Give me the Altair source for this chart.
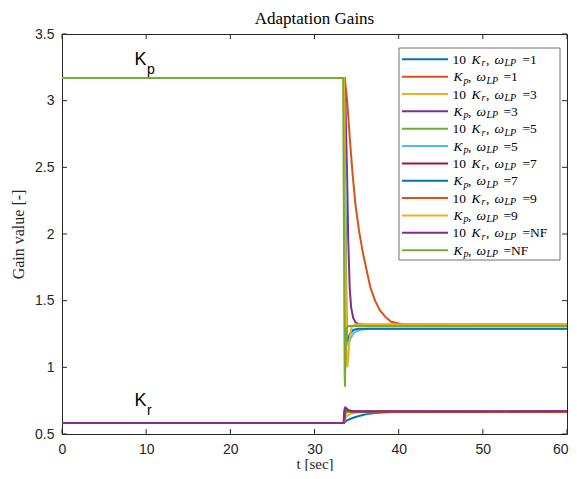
import altair as alt
import pandas as pd

# ---------------- data ----------------
xticks = [0, 10, 20, 30, 40, 50, 60]
yticks = [0.5, 1, 1.5, 2, 2.5, 3, 3.5]

series_names = [
    "10 Kr, wLP=1", "Kp, wLP=1", "10 Kr, wLP=3", "Kp, wLP=3",
    "10 Kr, wLP=5", "Kp, wLP=5", "10 Kr, wLP=7", "Kp, wLP=7",
    "10 Kr, wLP=9", "Kp, wLP=9", "10 Kr, wLP=NF", "Kp, wLP=NF",
]
legend_kind = ["Kr", "Kp"] * 6
legend_omega = ["1", "1", "3", "3", "5", "5", "7", "7", "9", "9", "NF", "NF"]
colors = ["#0072BD", "#D95319", "#EDB120", "#7E2F8E", "#77AC30", "#4DBEEE",
          "#A2142F", "#0072BD", "#D95319", "#EDB120", "#7E2F8E", "#77AC30"]

# 10 Kr, wLP = 1
t_kr1 = [0, 33.5, 33.8, 34.3, 34.8, 35.5, 36.2, 37.0, 38.0, 39.5, 60]
v_kr1 = [0.583, 0.583, 0.600, 0.614, 0.626, 0.639, 0.649, 0.656, 0.662, 0.665, 0.665]
# Kp, wLP = 1
t_kp1 = [0, 33.6, 33.9, 34.18, 34.5, 34.85, 35.3, 35.76, 36.63, 37.2, 37.74, 38.4, 39.1, 40.5, 60]
v_kp1 = [3.17, 3.17, 2.98, 2.73, 2.47, 2.23, 2.02, 1.855, 1.60, 1.50, 1.43, 1.38, 1.342, 1.322, 1.32]
# 10 Kr, wLP = 3
t_kr3 = [0, 33.5, 33.65, 33.9, 34.3, 34.8, 35.5, 60]
v_kr3 = [0.583, 0.583, 0.620, 0.638, 0.652, 0.660, 0.664, 0.665]
# Kp, wLP = 3
t_kp3 = [0, 33.6, 33.86, 34.0, 34.18, 34.35, 34.6, 34.9, 35.2, 36.0, 60]
v_kp3 = [3.17, 3.17, 2.48, 1.98, 1.60, 1.45, 1.37, 1.335, 1.325, 1.32, 1.32]
# 10 Kr, wLP = 5
t_kr5 = [0, 33.5, 33.62, 33.8, 34.1, 34.6, 60]
v_kr5 = [0.583, 0.583, 0.640, 0.662, 0.667, 0.665, 0.665]
# Kp, wLP = 5
t_kp5 = [0, 33.55, 33.7, 33.85, 34.0, 34.3, 34.7, 35.3, 36.5, 60]
v_kp5 = [3.17, 3.17, 2.2, 1.18, 1.17, 1.22, 1.26, 1.28, 1.29, 1.29]
# 10 Kr, wLP = 7
t_kr7 = [0, 33.5, 33.6, 33.75, 34.0, 34.5, 60]
v_kr7 = [0.583, 0.583, 0.660, 0.680, 0.675, 0.668, 0.666]
# Kp, wLP = 7
t_kp7 = [0, 33.5, 33.65, 33.8, 33.95, 34.2, 34.6, 35.2, 60]
v_kp7 = [3.17, 3.17, 2.2, 1.2, 1.2, 1.25, 1.28, 1.29, 1.29]
# 10 Kr, wLP = 9
t_kr9 = [0, 33.5, 33.58, 33.7, 33.9, 34.3, 60]
v_kr9 = [0.583, 0.583, 0.670, 0.688, 0.680, 0.670, 0.667]
# Kp, wLP = 9
t_kp9 = [0, 33.5, 33.65, 33.8, 33.9, 34.0, 34.15, 34.4, 34.8, 60]
v_kp9 = [3.17, 3.17, 2.2, 1.1, 1.0, 1.06, 1.2, 1.3, 1.322, 1.325]
# 10 Kr, no filter
t_krnf = [0, 33.45, 33.55, 33.66, 33.85, 34.1, 34.6, 60]
v_krnf = [0.583, 0.583, 0.680, 0.700, 0.690, 0.676, 0.670, 0.672]
# Kp, no filter
t_kpnf = [0, 33.4, 33.5, 33.58, 33.62, 33.7, 33.8, 34.0, 60]
v_kpnf = [3.17, 3.17, 2.0, 0.95, 0.854, 1.15, 1.29, 1.31, 1.31]

series_t = [t_kr1, t_kp1, t_kr3, t_kp3, t_kr5, t_kp5, t_kr7, t_kp7, t_kr9, t_kp9, t_krnf, t_kpnf]
series_v = [v_kr1, v_kp1, v_kr3, v_kp3, v_kr5, v_kp5, v_kr7, v_kp7, v_kr9, v_kp9, v_krnf, v_kpnf]

# text annotations in the plot
ann_main = ["K", "K"]
ann_sub = ["p", "r"]
ann_t = [8.6, 8.6]
ann_v = [3.267, 0.709]

# ---------------- build tables ----------------
rows = []
for name, ts, vs in zip(series_names, series_t, series_v):
    for t, v in zip(ts, vs):
        rows.append({"series": name, "t": t, "v": v})
df = pd.DataFrame(rows)

W, H = 505, 400
INK = "#262626"
SERIF = "Liberation Serif"
SANS = "Liberation Sans"

xs = alt.Scale(domain=[0, 60], nice=False, zero=False)
ys = alt.Scale(domain=[0.5, 3.5], nice=False, zero=False)
cs = alt.Scale(domain=series_names, range=colors)

xaxis = alt.Axis(values=xticks, ticks=False, domain=False, grid=False,
                 labelFont=SANS, labelFontSize=14, labelColor=INK,
                 labelPadding=8, labelFlush=False, labelOverlap=False, format="d",
                 labelAlign={"condition": {"test": "datum.value === 60", "value": "right"},
                             "value": "center"},
                 labelOffset={"condition": {"test": "datum.value === 60", "value": 1},
                              "value": 0},
                 title="t [sec]", titleFont=SERIF, titleFontSize=15,
                 titleFontWeight="normal", titleColor=INK,
                 titleBaseline="alphabetic", titleY=34)
yaxis = alt.Axis(values=yticks, ticks=False, domain=False, grid=False,
                 labelFont=SANS, labelFontSize=14, labelColor=INK,
                 labelPadding=8, labelFlush=False, labelOverlap=False, format="~g",
                 title="Gain value [-]", titleFont=SERIF, titleFontSize=16,
                 titleFontWeight="normal", titleColor=INK, titlePadding=8)

X = alt.X("t:Q", scale=xs, axis=xaxis)
Y = alt.Y("v:Q", scale=ys, axis=yaxis)

lines = alt.Chart(df).mark_line(strokeWidth=2, clip=True).encode(
    x=X, y=Y,
    color=alt.Color("series:N", scale=cs, legend=None),
)

# inward tick marks on all four sides
xt = pd.DataFrame({"t": xticks})
yt = pd.DataFrame({"v": yticks})
tick_style = dict(color=INK, strokeWidth=1)
xt_bot = alt.Chart(xt).mark_rule(**tick_style).encode(
    x=X, y=alt.value(H), y2=alt.value(H - 5))
xt_top = alt.Chart(xt).mark_rule(**tick_style).encode(
    x=X, y=alt.value(0), y2=alt.value(5))
yt_left = alt.Chart(yt).mark_rule(**tick_style).encode(
    y=Y, x=alt.value(0), x2=alt.value(5))
yt_right = alt.Chart(yt).mark_rule(**tick_style).encode(
    y=Y, x=alt.value(W), x2=alt.value(W - 5))

# annotations K_p / K_r
ann = pd.DataFrame({"main": ann_main, "sub": ann_sub, "t": ann_t, "v": ann_v})
ann_k = alt.Chart(ann).mark_text(font=SANS, fontSize=18, align="left",
                                 baseline="alphabetic", color="black").encode(
    x=X, y=Y, text="main:N")
ann_s = alt.Chart(ann).mark_text(font=SANS, fontSize=14, align="left",
                                 baseline="alphabetic", color="black", dx=12.5, dy=9).encode(
    x=X, y=Y, text="sub:N")

# ---------------- custom legend (pixel layout) ----------------
LX0, LX1, LY0, LY1 = 337, 498, 14, 226
ROW0, PITCH = 25.3, 17.35
leg_rows = []
leg_text = []
for i, (name, kind, om) in enumerate(zip(series_names, legend_kind, legend_omega)):
    ry = ROW0 + i * PITCH
    leg_rows.append({"series": name, "ly": ry})
    if kind == "Kr":
        segs = [("10", 390.5, "rm"), ("K", 409.5, "it"), ("r", 419.5, "sub"),
                (",", 424, "rm"), ("ω", 432.5, "it"), ("LP", 442.5, "sub"),
                ("=" + om, 460.5, "rm")]
    else:
        segs = [("K", 391.5, "it"), ("p", 401.5, "sub"),
                (",", 406, "rm"), ("ω", 414.5, "it"), ("LP", 424.5, "sub"),
                ("=" + om, 441.5, "rm")]
    for txt, x, st in segs:
        leg_text.append({"txt": txt, "lx": x, "ly": ry + (7 if st == "sub" else 4.5), "st": st})
leg_rows = pd.DataFrame(leg_rows)
leg_text = pd.DataFrame(leg_text)

leg_box = alt.Chart(pd.DataFrame({"a": [0]})).mark_rect(
    fill="white", stroke="#707070", strokeWidth=1).encode(
    x=alt.value(LX0), x2=alt.value(LX1), y=alt.value(LY0), y2=alt.value(LY1))
leg_lines = alt.Chart(leg_rows).mark_rule(strokeWidth=2).encode(
    x=alt.value(340), x2=alt.value(386),
    y=alt.Y("ly:Q", scale=None),
    color=alt.Color("series:N", scale=cs, legend=None))


def leg_layer(style, size, fstyle):
    return alt.Chart(leg_text).transform_filter(alt.datum.st == style).mark_text(
        font=SERIF, fontSize=size, fontStyle=fstyle, align="left",
        baseline="alphabetic", color="black").encode(
        x=alt.X("lx:Q", scale=None),
        y=alt.Y("ly:Q", scale=None),
        text="txt:N")


leg_rm = leg_layer("rm", 13.5, "normal")
leg_it = leg_layer("it", 13.5, "italic")
leg_sub = leg_layer("sub", 10, "italic")

chart = alt.layer(
    lines, xt_bot, xt_top, yt_left, yt_right, ann_k, ann_s,
    leg_box, leg_lines, leg_rm, leg_it, leg_sub,
).properties(
    width=W, height=H,
    title=alt.TitleParams("Adaptation Gains", font=SERIF, fontSize=17,
                          fontWeight="normal", color="black", offset=6, dy=7),
    autosize=alt.AutoSizeParams(type="none"),
    padding={"left": 54, "top": 26, "right": 2, "bottom": 37},
).configure_view(stroke=INK, strokeWidth=1)

chart.save("out.html", embed_options={"renderer": "svg", "actions": False})
